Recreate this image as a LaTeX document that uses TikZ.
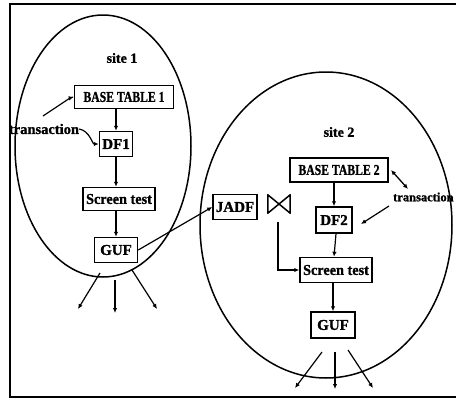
\documentclass[tikz,border=0pt]{standalone}
\usepackage{fontspec}
\usepackage{graphicx}
\setmainfont{Liberation Serif}[BoldFeatures={FakeBold=1.2}]
\usetikzlibrary{arrows.meta}
\begin{document}
\begin{tikzpicture}[x=1pt,y=-1pt,
  box/.style={draw, line width=1.5pt, font=\fontsize{15}{15}\selectfont\bfseries, inner sep=1pt},
  lbl/.style={font=\fontsize{14}{14}\selectfont\bfseries, inner sep=0pt},
  arr/.style={-{Latex[length=5pt,width=4.5pt]}, line width=1.2pt},
  darr/.style={{Latex[length=5pt,width=4.5pt]}-{Latex[length=5pt,width=4.5pt]}, line width=1.3pt},
  site/.style={line width=1.5pt}]
\useasboundingbox (0,0) rectangle (456,399);
\clip (0,0) rectangle (456,399);
% frame
\draw[line width=1.3pt] (458,4) -- (10,4) -- (10,397) -- (458,397);
% ellipses
\draw[site] (103,146) ellipse [x radius=88, y radius=131];
\draw[site] (326,225) ellipse [x radius=126, y radius=153];
% site 1
\node[lbl] (s1) at (122,58) {site 1};
\node[box, minimum width=99, minimum height=23] (bt1) at (124,97) {\scalebox{0.78}[1]{BASE TABLE 1}};
\node[box, minimum width=33, minimum height=25] (df1) at (116,144) {DF1};
\node[box, minimum width=72, minimum height=23] (st1) at (119,199) {\scalebox{0.95}[1]{Screen test}};
\node[box, minimum width=43, minimum height=25] (gu1) at (116,250) {GUF};
\node[lbl, font=\fontsize{14.5}{14.5}\selectfont\bfseries] (tr1) at (44,129) {transaction};
\draw[arr] (bt1.south -| df1.north) -- (df1.north);
\draw[arr] (df1.south) -- (df1.south |- st1.north);
\draw[arr] (st1.south -| gu1.north) -- (gu1.north);
\coordinate (t1a) at (43,116);
\draw[arr] (t1a) -- (70,98) -- (bt1.west);
\draw[arr] (tr1.east) .. controls (90,131) and (92,144) .. (df1.west);
\coordinate (a1l0) at (100,273); \coordinate (a1l1) at (78,309);
\coordinate (a1m0) at (115,280); \coordinate (a1m1) at (115,313);
\coordinate (a1r0) at (132,270); \coordinate (a1r1) at (157,309);
\draw[arr] (a1l0) -- (a1l1);
\draw[arr] (a1m0) -- (a1m1);
\draw[arr] (a1r0) -- (a1r1);
% site 2
\node[lbl] (s2) at (339,132) {site 2};
\node[box, minimum width=98, minimum height=24] (bt2) at (339,170) {\scalebox{0.78}[1]{BASE TABLE 2}};
\node[box, minimum width=36, minimum height=26] (df2) at (334,220) {DF2};
\node[box, minimum width=72, minimum height=25] (st2) at (336,270) {\scalebox{0.95}[1]{Screen test}};
\node[box, minimum width=44, minimum height=26] (gu2) at (333,325) {GUF};
\node[box, minimum width=44, minimum height=25] (jadf) at (235,207) {JADF};
\node[lbl, font=\fontsize{12.5}{12.5}\selectfont\bfseries, anchor=west] (tr2) at (393,197) {transaction};
\node[minimum width=22, minimum height=18, inner sep=0pt] (join) at (279,204) {};
\draw[line width=1.5pt, line join=round] (join.north west) -- (join.south east) -- (join.north east) -- (join.south west) -- cycle;
\draw[arr] (bt2.south -| df2.north) -- (df2.north);
\draw[arr] (df2.south -| st2.north) -- (st2.north -| df2.south);
\draw[arr] (st2.south -| gu2.north) -- (gu2.north);
\coordinate (j0) at (278,222);
\draw[arr] (j0) |- (st2.west);
\draw[arr] (gu1.east) -- (jadf.west);
\coordinate (t2a) at (408,189);
\draw[darr] (t2a) -- (391,170);
\coordinate (t2b) at (389,206);
\draw[arr] (t2b) -- (361,224);
\coordinate (a2l0) at (322,352); \coordinate (a2l1) at (295,388);
\coordinate (a2m0) at (335,352); \coordinate (a2m1) at (335,389);
\coordinate (a2r0) at (348,350); \coordinate (a2r1) at (373,388);
\draw[arr] (a2l0) -- (a2l1);
\draw[arr] (a2m0) -- (a2m1);
\draw[arr] (a2r0) -- (a2r1);
\end{tikzpicture}
\end{document}
